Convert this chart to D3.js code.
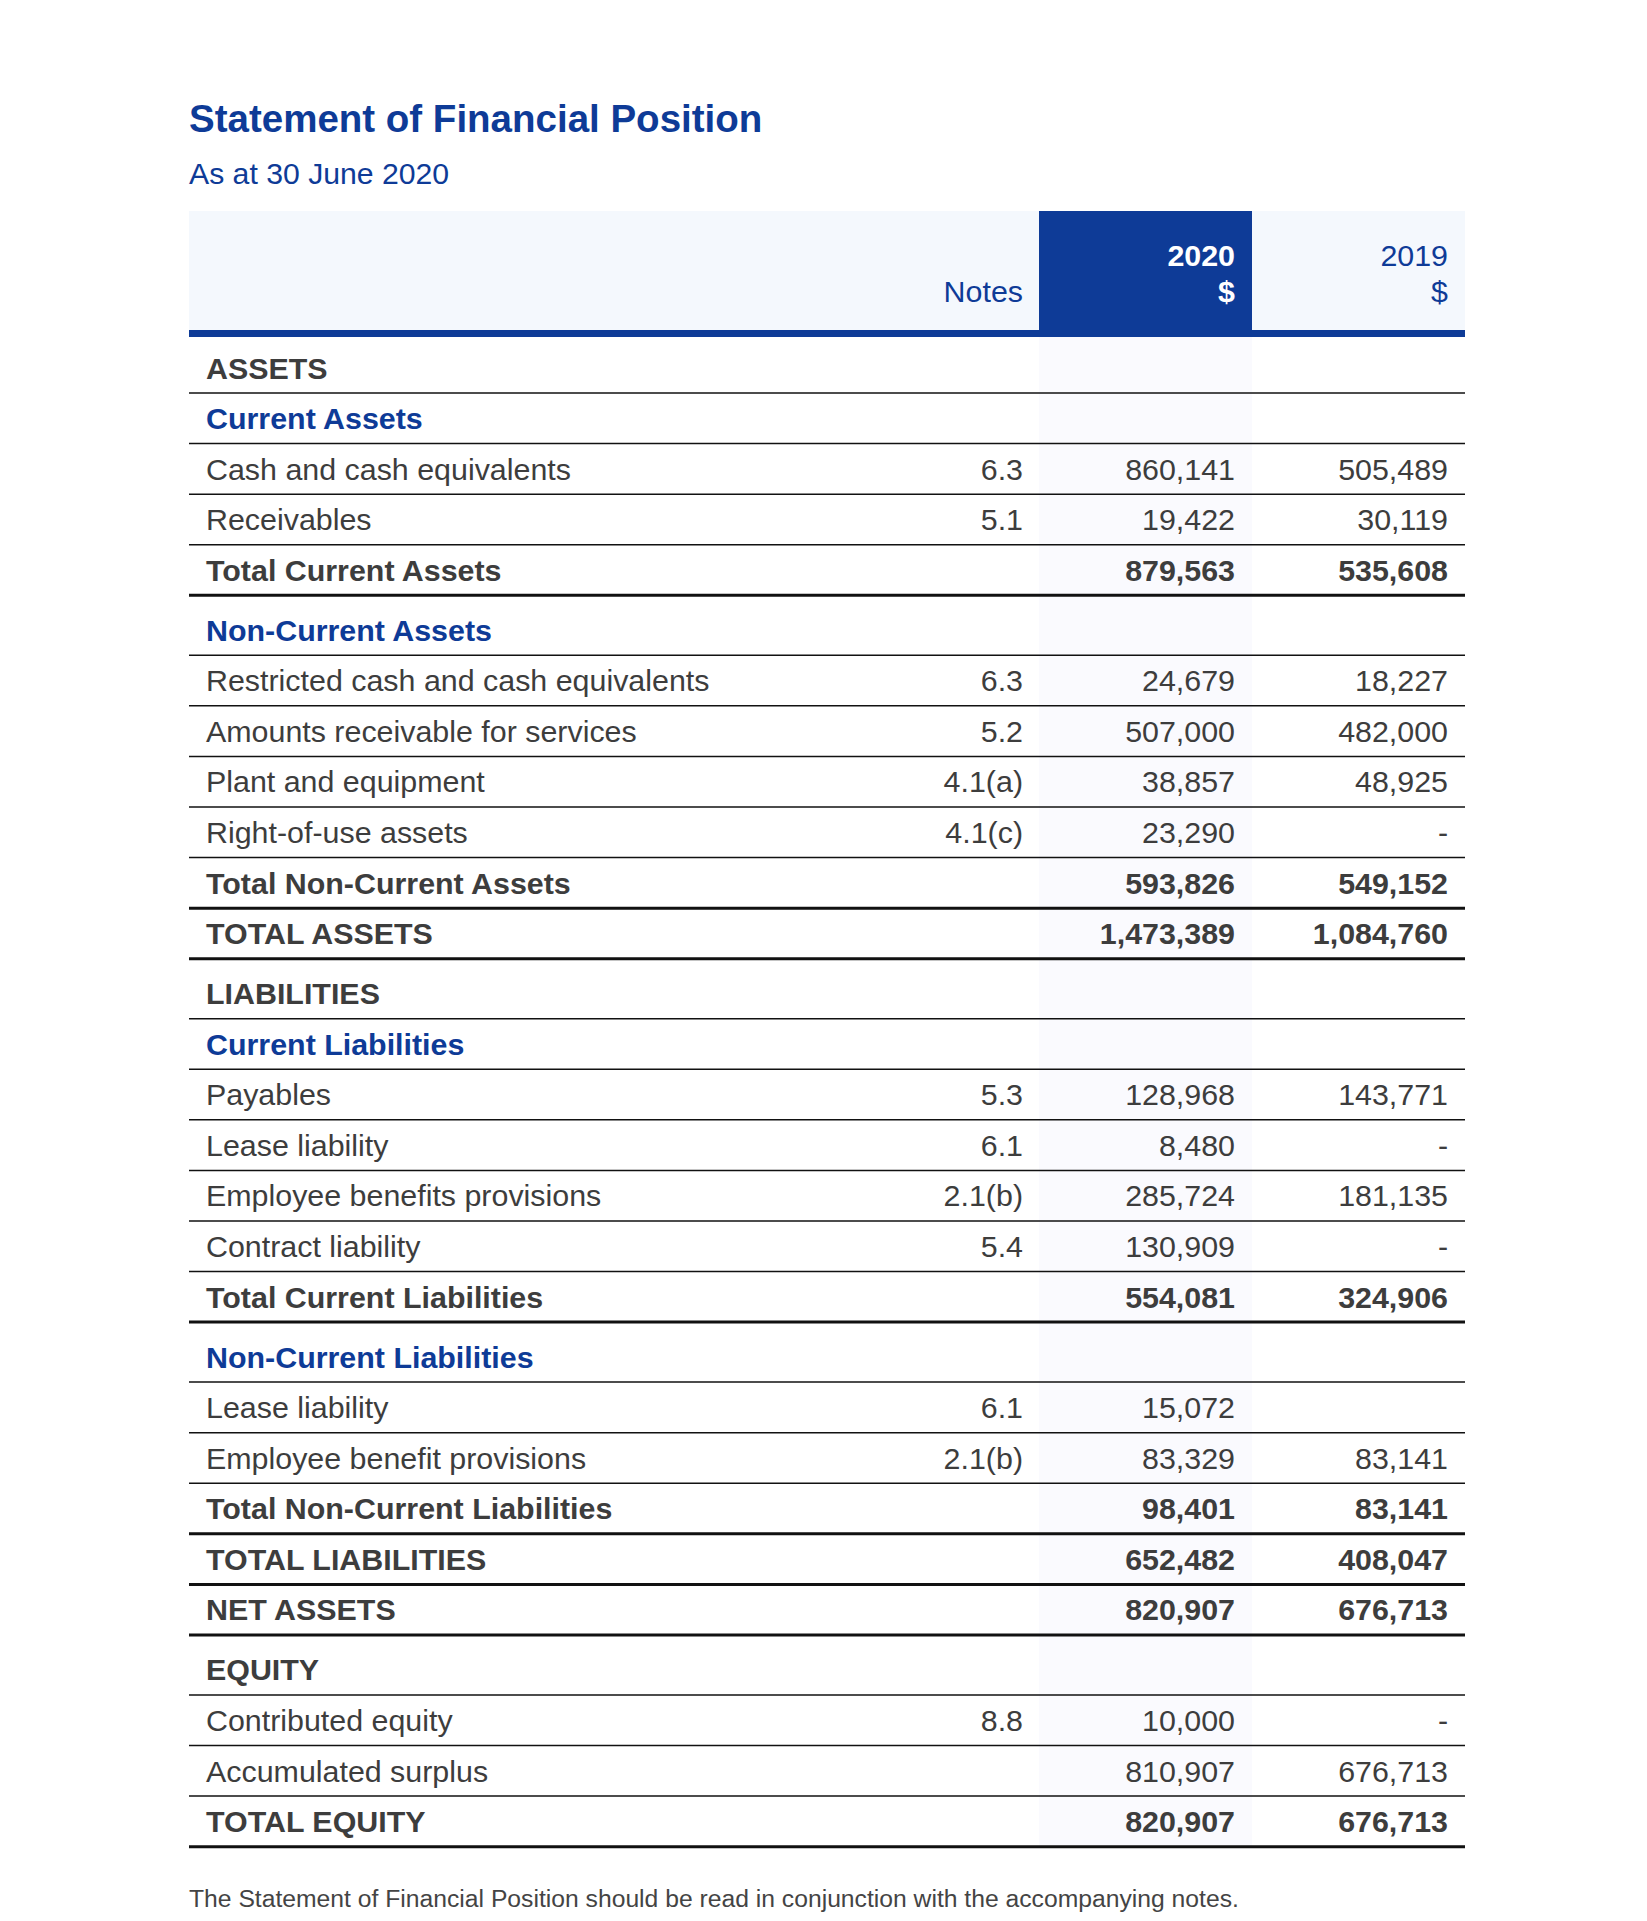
<!DOCTYPE html>
<html><head><meta charset="utf-8">
<script src="https://cdn.jsdelivr.net/npm/d3@7"></script>
<style>html,body{margin:0;padding:0;background:#fff;} svg{display:block;font-family:"Liberation Sans",Arial,Helvetica,sans-serif;}</style>
</head><body><svg id="c" width="1647" height="1921"></svg>
<script>
const titleText = "Statement of Financial Position";
const subtitleText = "As at 30 June 2020";
const footerText = "The Statement of Financial Position should be read in conjunction with the accompanying notes.";
const columnKeys = ["label", "notes", "y2020", "y2019"];
const headerLine1 = ["", "", "2020", "2019"];
const headerLine2 = ["", "Notes", "$", "$"];

const rowLabels = [
  "ASSETS", "Current Assets", "Cash and cash equivalents", "Receivables", "Total Current Assets",
  "Non-Current Assets", "Restricted cash and cash equivalents", "Amounts receivable for services",
  "Plant and equipment", "Right-of-use assets", "Total Non-Current Assets", "TOTAL ASSETS",
  "LIABILITIES", "Current Liabilities", "Payables", "Lease liability", "Employee benefits provisions",
  "Contract liability", "Total Current Liabilities", "Non-Current Liabilities", "Lease liability",
  "Employee benefit provisions", "Total Non-Current Liabilities", "TOTAL LIABILITIES", "NET ASSETS",
  "EQUITY", "Contributed equity", "Accumulated surplus", "TOTAL EQUITY"
];
const rowKinds = [
  "group", "section", "item", "item", "total",
  "section", "item", "item", "item", "item", "total", "total",
  "group", "section", "item", "item", "item", "item", "total",
  "section", "item", "item", "total", "total", "total",
  "group", "item", "item", "total"
];
const rowNotes = [
  "", "", "6.3", "5.1", "",
  "", "6.3", "5.2", "4.1(a)", "4.1(c)", "", "",
  "", "", "5.3", "6.1", "2.1(b)", "5.4", "",
  "", "6.1", "2.1(b)", "", "", "",
  "", "8.8", "", ""
];
const values2020 = [
  null, null, 860141, 19422, 879563,
  null, 24679, 507000, 38857, 23290, 593826, 1473389,
  null, null, 128968, 8480, 285724, 130909, 554081,
  null, 15072, 83329, 98401, 652482, 820907,
  null, 10000, 810907, 820907
];
const values2019 = [
  null, null, 505489, 30119, 535608,
  null, 18227, 482000, 48925, 0, 549152, 1084760,
  null, null, 143771, 0, 181135, 0, 324906,
  null, null, 83141, 83141, 408047, 676713,
  null, 0, 676713, 676713
];

const BLUE = "#0e3b97", TEXT = "#3d3d3d", LINE = "#111111";
const tableLeft = 189, tableRight = 1465;
const headTop = 211, headBottom = 330, headRule = 7;
const col2020 = [1039, 1252];
const fs = 30.4;

const svg = d3.select("#c");
const xCol = d3.scaleOrdinal().domain(columnKeys).range([206, 1023, 1235, 1448]);
const fmt = v => v === null ? "" : (v === 0 ? "-" : d3.format(",")(v));

// row geometry
const rows = rowLabels.map((label, i) => ({
  label, kind: rowKinds[i], note: rowNotes[i], v20: values2020[i], v19: values2019[i]
}));
const heights = rows.map((r, i) => {
  if (i === 0) return 56;
  if ((r.kind === "group" || r.kind === "section") && rows[i - 1].kind === "total") return 60;
  return 50.57;
});
const tableTop = headBottom + headRule;
const bottoms = Array.from(d3.cumsum(heights), s => tableTop + s);
const yScale = d3.scaleOrdinal().domain(d3.range(rows.length)).range(bottoms);

// title
svg.append("text").attr("x", tableLeft).attr("y", 132).attr("fill", BLUE)
  .attr("font-size", 38.5).attr("font-weight", "bold").text(titleText);
svg.append("text").attr("x", tableLeft).attr("y", 183.5).attr("fill", BLUE)
  .attr("font-size", 30.2).text(subtitleText);

// header band
svg.append("rect").attr("x", tableLeft).attr("y", headTop).attr("width", tableRight - tableLeft)
  .attr("height", headBottom - headTop).attr("fill", "#f4f8fd");
svg.append("rect").attr("x", col2020[0]).attr("y", headTop).attr("width", col2020[1] - col2020[0])
  .attr("height", headBottom - headTop).attr("fill", BLUE);
// faint 2020 column
svg.append("rect").attr("x", col2020[0]).attr("y", tableTop).attr("width", col2020[1] - col2020[0])
  .attr("height", bottoms[bottoms.length - 1] - tableTop).attr("fill", "#fafafe");
svg.append("rect").attr("x", tableLeft).attr("y", headBottom).attr("width", tableRight - tableLeft)
  .attr("height", headRule).attr("fill", BLUE);

// header texts
columnKeys.forEach((k, j) => {
  if (j === 0) return;
  const is20 = k === "y2020";
  [[headerLine1[j], 265.5], [headerLine2[j], 302]].forEach(([t, y]) => {
    if (!t) return;
    svg.append("text").attr("x", xCol(k)).attr("y", y).attr("text-anchor", "end")
      .attr("font-size", fs).attr("font-weight", is20 ? "bold" : "normal")
      .attr("fill", is20 ? "#ffffff" : BLUE).text(t);
  });
});

// rows
const g = svg.append("g");
const rowG = g.selectAll("g.row").data(rows).join("g").attr("class", "row");
rowG.append("line")
  .attr("x1", tableLeft).attr("x2", tableRight)
  .attr("y1", (d, i) => yScale(i)).attr("y2", (d, i) => yScale(i))
  .attr("stroke", LINE)
  .attr("stroke-width", d => d.kind === "total" ? 3 : 1.5);

const weight = d => d.kind === "item" ? "normal" : "bold";
rowG.append("text").attr("x", xCol("label")).attr("y", (d, i) => yScale(i) - 14.5)
  .attr("font-size", fs).attr("font-weight", weight)
  .attr("fill", d => d.kind === "section" ? BLUE : TEXT).text(d => d.label);
rowG.append("text").attr("x", xCol("notes")).attr("y", (d, i) => yScale(i) - 14.5)
  .attr("text-anchor", "end").attr("font-size", fs).attr("fill", TEXT).text(d => d.note);
rowG.append("text").attr("x", xCol("y2020")).attr("y", (d, i) => yScale(i) - 14.5)
  .attr("text-anchor", "end").attr("font-size", fs).attr("font-weight", weight)
  .attr("fill", TEXT).text(d => fmt(d.v20));
rowG.append("text").attr("x", xCol("y2019")).attr("y", (d, i) => yScale(i) - 14.5)
  .attr("text-anchor", "end").attr("font-size", fs).attr("font-weight", weight)
  .attr("fill", TEXT).text(d => fmt(d.v19));

// footer
svg.append("text").attr("x", tableLeft).attr("y", 1907).attr("font-size", 24.7)
  .attr("fill", "#444").text(footerText);
</script></body></html>
